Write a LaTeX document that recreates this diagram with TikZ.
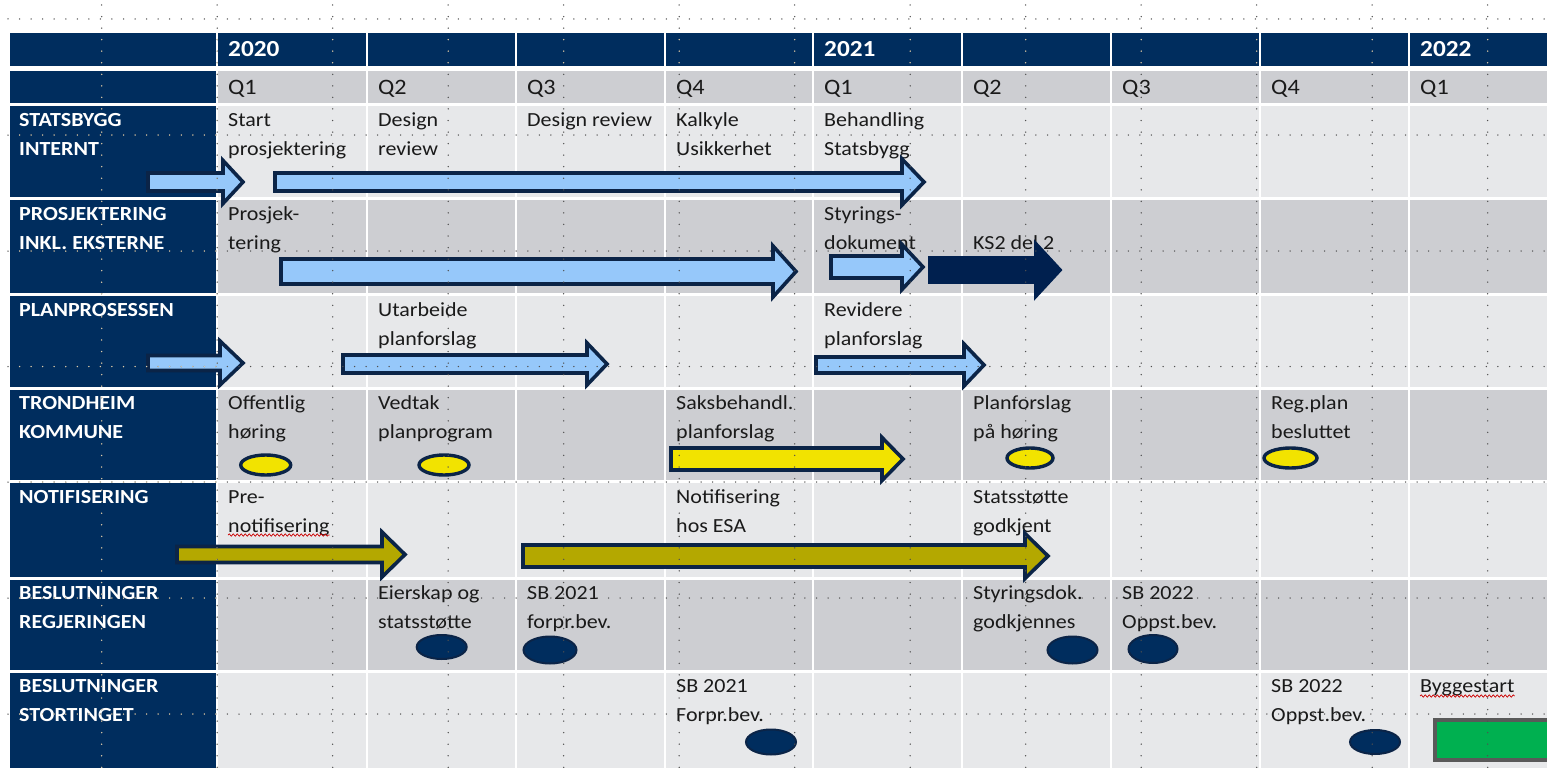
\documentclass[tikz,border=0pt]{standalone}
\usepackage{fontspec}
\setmainfont{Carlito}[FakeStretch=1.1]
\usetikzlibrary{shapes.geometric,decorations.pathmorphing}
\definecolor{navy}{HTML}{002D5E}
\definecolor{edge}{HTML}{0B2447}
\definecolor{cellA}{HTML}{E7E8EA}
\definecolor{cellB}{HTML}{CDCED2}
\definecolor{lblue}{HTML}{96C8FA}
\definecolor{yel}{HTML}{F2E300}
\definecolor{olivec}{HTML}{B4A800}
\definecolor{dnavy}{HTML}{00204F}
\definecolor{grn}{HTML}{00B050}
\definecolor{txtc}{HTML}{1A1A1A}
\definecolor{dotc}{HTML}{505050}
\definecolor{dotl}{HTML}{D8CCB0}
\tikzset{
  lbl/.style={anchor=base west, inner sep=0pt, text=white, font=\bfseries\fontsize{20}{24}\selectfont},
  txt/.style={anchor=base west, inner sep=0pt, text=txtc, font=\fontsize{20}{24}\selectfont},
  yr/.style={anchor=base west, inner sep=0pt, text=white, font=\bfseries\fontsize{23}{26}\selectfont},
  qtr/.style={anchor=base west, inner sep=0pt, text=txtc, font=\fontsize{22}{26}\selectfont},
  arr/.style={draw=edge, line width=3.6pt, line join=miter},
  lb/.style={arr, fill=lblue},
  yb/.style={arr, fill=yel},
  ob/.style={arr, fill=olivec},
  nb/.style={arr, fill=dnavy, draw=dnavy},
  yell/.style={ellipse, draw=edge, line width=3.4pt, fill=yel, inner sep=0pt},
  nell/.style={ellipse, draw=edge, line width=2pt, fill=navy, inner sep=0pt},
  sep/.style={white, line width=3pt},
  dotline/.style={dotc, line width=1.5pt, line cap=round, dash pattern=on 0pt off 11.55pt},
  dotlight/.style={dotline, dotl},
  squig/.style={red!80!black, line width=0.7pt, decorate, decoration={snake, amplitude=1.2pt, segment length=4pt}}
}
% block arrow: style, x start, x head start, x tip, y centre, body half, head half
\newcommand{\barrow}[7]{\draw[#1] (#2,{#5-#6}) -- (#3,{#5-#6}) -- (#3,{#5-#7}) -- (#4,#5) -- (#3,{#5+#7}) -- (#3,{#5+#6}) -- (#2,{#5+#6}) -- cycle;}
% two-line text: style, name, x, baseline, line1, line2
\newcommand{\twol}[6]{\node[#1] (#2a) at (#3,#4) {#5}; \node[#1] (#2b) at (#3,{#4+29.5}) {#6};}
\newcommand{\gridlines}[1]{%
  \foreach \gx in {101.7,217.2,332.7,448.2,563.7,679.2,794.7,910.2,1025.7,1141.2,1256.7,1372.2,1487.7}
    \draw[#1] (\gx,5) -- (\gx,768);
  \foreach \gy in {19,135,251,366.5,482,598,714}
    \draw[#1] (8,\gy) -- (1547,\gy);}
\begin{document}
\begin{tikzpicture}[x=1pt,y=-1pt]
\useasboundingbox (0,0) rectangle (1547,768);
\clip (0,0) rectangle (1547,768);
\fill[white] (0,0) rectangle (1547,768);
% backgrounds
\fill[navy] (10,33) rectangle (1547,66);
\fill[navy] (10,71) rectangle (217,768);
\fill[cellB] (217,71) rectangle (1547,104);
\fill[cellA] (217,104) rectangle (1547,198);
\fill[cellB] (217,198) rectangle (1547,294);
\fill[cellA] (217,294) rectangle (1547,388);
\fill[cellB] (217,388) rectangle (1547,481);
\fill[cellA] (217,481) rectangle (1547,578);
\fill[cellB] (217,578) rectangle (1547,671);
\fill[cellA] (217,671) rectangle (1547,768);
% separators
\foreach \sy in {104,198,294,388,481,578,671}
  \draw[sep] (10,\sy) -- (1547,\sy);
\foreach \sx in {217,367,516,665,813,962,1111,1260,1409}
  \draw[sep, line width=2.5pt] (\sx,33) -- (\sx,768);
% year and quarter headers
\node[yr] (y20) at (228,57) {2020};
\node[yr] (y21) at (824,57) {2021};
\node[yr] (y22) at (1420,57) {2022};
\foreach \qx/\ql [count=\qi] in {228/Q1,378/Q2,527/Q3,676/Q4,824/Q1,973/Q2,1122/Q3,1271/Q4,1420/Q1}
  \node[qtr] (q\qi) at (\qx,94) {\ql};
% row labels
\twol{lbl}{l1}{19}{126}{STATSBYGG}{INTERNT}
\twol{lbl}{l2}{19}{220}{PROSJEKTERING}{INKL. EKSTERNE}
\node[lbl] (l3a) at (19,316) {PLANPROSESSEN};
\twol{lbl}{l4}{19}{409}{TRONDHEIM}{KOMMUNE}
\node[lbl] (l5a) at (19,503) {NOTIFISERING};
\twol{lbl}{l6}{19}{599}{BESLUTNINGER}{REGJERINGEN}
\twol{lbl}{l7}{19}{692}{BESLUTNINGER}{STORTINGET}
% cell texts
\twol{txt}{s0}{228}{126}{Start}{prosjektering}
\twol{txt}{s1}{378}{126}{Design}{review}
\node[txt] (s2a) at (527,126) {Design review};
\twol{txt}{s3}{676}{126}{Kalkyle}{Usikkerhet}
\twol{txt}{s4}{824}{126}{Behandling}{Statsbygg}
\twol{txt}{p0}{228}{220}{Prosjek-}{tering}
\twol{txt}{p4}{824}{220}{Styrings-}{dokument}
\node[txt] (p5b) at (973,249.5) {KS2 del 2};
\twol{txt}{r1}{378}{316}{Utarbeide}{planforslag}
\twol{txt}{r4}{824}{316}{Revidere}{planforslag}
\twol{txt}{t0}{228}{409}{Offentlig}{høring}
\twol{txt}{t1}{378}{409}{Vedtak}{planprogram}
\twol{txt}{t3}{676}{409}{Saksbehandl.}{planforslag}
\twol{txt}{t5}{973}{409}{Planforslag}{på høring}
\twol{txt}{t7}{1271}{409}{Reg.plan}{besluttet}
\twol{txt}{n0}{228}{503}{Pre-}{notifisering}
\twol{txt}{n3}{676}{503}{Notifisering}{hos ESA}
\twol{txt}{n5}{973}{503}{Statsstøtte}{godkjent}
\twol{txt}{g1}{378}{599}{Eierskap og}{statsstøtte}
\twol{txt}{g2}{527}{599}{SB 2021}{forpr.bev.}
\twol{txt}{g5}{973}{599}{Styringsdok.}{godkjennes}
\twol{txt}{g6}{1122}{599}{SB 2022}{Oppst.bev.}
\twol{txt}{k3}{676}{692}{SB 2021}{Forpr.bev.}
\twol{txt}{k7}{1271}{692}{SB 2022}{Oppst.bev.}
\node[txt] (k8a) at (1420,692) {Byggestart};
% spell-check squiggles
\draw[squig] ([yshift=-2.5pt]n0b.base west) -- ([yshift=-2.5pt]n0b.base east);
\draw[squig] ([yshift=-4pt]k8a.base west) -- ([yshift=-4pt]k8a.base east);
% arrows
\barrow{lb}{148}{223}{243}{182}{9}{21.5}
\barrow{lb}{275}{902}{924}{182}{9}{23}
\barrow{lb}{281}{773}{796}{271.5}{12.5}{25.5}
\barrow{lb}{831}{902}{923}{267}{11}{22.5}
\barrow{nb}{930}{1036}{1060}{270}{12}{26}
\barrow{lb}{148}{220}{243}{363}{7.5}{22}
\barrow{lb}{343}{587}{607}{364}{9}{21}
\barrow{lb}{816}{964}{984}{365}{8}{21}
\barrow{yb}{671}{882}{903}{459}{11}{21.5}
\barrow{ob}{177}{382}{405}{554.5}{8}{22.5}
\barrow{ob}{523}{1025}{1048}{556}{11}{22.5}
% milestones
\node[yell, minimum width=50pt, minimum height=20pt] (e1) at (265.7,465) {};
\node[yell, minimum width=50pt, minimum height=20pt] (e2) at (444,465) {};
\node[yell, minimum width=46pt, minimum height=20pt] (e3) at (1030,458) {};
\node[yell, minimum width=53pt, minimum height=20pt] (e4) at (1290.5,458) {};
\node[nell, minimum width=50pt, minimum height=24pt] (m1) at (441.7,647) {};
\node[nell, minimum width=53pt, minimum height=27pt] (m2) at (550,650) {};
\node[nell, minimum width=50pt, minimum height=27pt] (m3) at (1072.5,650) {};
\node[nell, minimum width=49pt, minimum height=28pt] (m4) at (1153,649) {};
\node[nell, minimum width=50pt, minimum height=25pt] (m5) at (771,742) {};
\node[nell, minimum width=50pt, minimum height=24pt] (m6) at (1375,742) {};
\node[draw=black!65, line width=4pt, fill=grn, minimum width=140pt, minimum height=40pt, inner sep=0pt, anchor=north west] (bygg) at (1433,718) {};
% drawing grid
\gridlines{dotline}
\begin{scope}
  \clip (10,33) rectangle (1547,66) (10,71) rectangle (217,768);
  \gridlines{dotlight}
\end{scope}
\end{tikzpicture}
\end{document}
